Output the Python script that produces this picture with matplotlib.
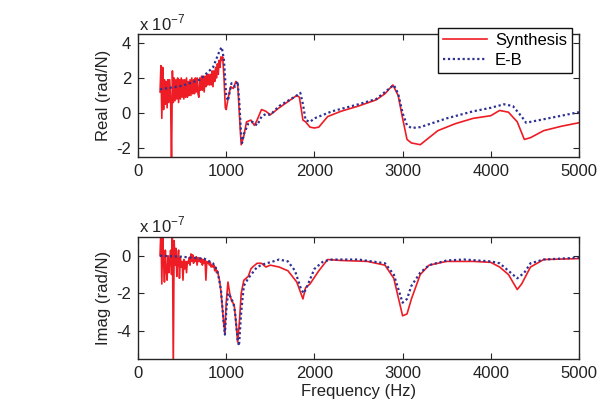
import numpy as np
import matplotlib
matplotlib.use("Agg")
import matplotlib.pyplot as plt

plt.rcParams['font.family'] = ['Liberation Sans', 'DejaVu Sans']

# ---------------- data (units of 1e-7 rad/N) ----------------
# noisy low-frequency region of the synthesis curves (250..950 Hz, step 10)
noise_freq = list(range(250, 960, 10))
syn_real_noise = [1.2, 2.7, -0.3, 2.6, 0.2, 1.9, 0.5, 1.8, 0.3, 1.9,
                  0.6, 1.9, 0.7, -3.0, 2.4, 0.6, 2.0, 0.7, 1.9, 0.8,
                  2.0, 0.6, 1.9, 0.8, 2.0, 0.9, 1.9, 0.8, 1.9, 0.9,
                  2.0, 0.9, 1.8, 1.0, 1.9, 1.0, 2.0, 1.1, 1.9, 1.1,
                  2.0, 1.2, 2.0, 1.1, 0.9, 2.0, 1.3, 2.1, 1.3, 2.1,
                  1.2, 2.1, 1.5, 2.2, 1.6, 2.2, 1.6, 2.2, 1.6, 2.4,
                  1.5, 2.4, 1.8, 2.6, 2.0, 2.8, 2.2, 3.0, 2.6, 3.2,
                  3.0]
syn_imag_noise = [0.0, 1.5, -1.5, 1.2, -0.3, -1.4, 0.3, -0.8, -1.3, 0.0,
                  -0.9, -0.2, 0.3, -1.0, 1.5, -6.0, 0.8, -0.5, 0.4, -1.1,
                  -0.2, 0.3, -1.2, -0.1, -0.6, -0.3, -1.3, -0.2, -0.7, -0.3,
                  -0.9, -0.3, -0.4, -0.1, -0.5, 0.1, -0.3, 0.05, -0.4, -0.1,
                  -0.3, -0.05, -0.5, -0.1, -0.3, -0.2, -0.35, -0.15, -0.5, -0.2,
                  -0.4, -0.25, -1.3, -0.3, -0.4, -0.3, -0.5, -0.35, -0.6, -0.5,
                  -0.6, -0.5, -0.8, -0.6, -0.9, -0.8, -1.0, -1.2, -1.5, -1.9,
                  -2.4]

# smooth part of the synthesis curves
syn_real_freq = [960, 975, 990, 1000, 1020, 1050, 1080, 1110, 1130, 1160, 1170,
                 1200, 1230, 1280, 1320, 1350, 1400, 1450, 1500, 1600, 1800,
                 1830, 1870, 1900, 1950, 2000, 2050, 2150, 2200, 2300, 2500,
                 2700, 2800, 2890, 2950, 3000, 3050, 3100, 3200, 3250, 3400,
                 3600, 3800, 4000, 4100, 4200, 4300, 4380, 4450, 4600, 4800, 5000]
syn_real_vals = [3.2, 2.0, 0.3, 0.2, 0.8, 1.5, 1.4, 1.8, 1.7, -1.0, -1.8,
                 -1.3, -0.5, -0.4, -0.7, -0.4, 0.2, 0.1, -0.1, 0.3, 1.0,
                 0.9, -0.4, -0.5, -0.8, -0.85, -0.8, -0.2, -0.1, 0.1, 0.4,
                 0.75, 1.1, 1.6, 1.0, -0.3, -1.5, -1.7, -1.8, -1.6, -1.0,
                 -0.6, -0.3, -0.15, 0.15, 0.05, -0.5, -1.5, -1.4, -1.0, -0.75, -0.55]

syn_imag_freq = [970, 985, 1000, 1020, 1040, 1060, 1090, 1110, 1130, 1150,
                 1170, 1200, 1250, 1280, 1300, 1350, 1400, 1450, 1500, 1600,
                 1700, 1800, 1870, 1900, 1950, 2050, 2150, 2300, 2600, 2800,
                 2900, 2950, 3000, 3050, 3100, 3200, 3300, 3500, 3800, 4000,
                 4100, 4200, 4300, 4350, 4450, 4600, 5000]
syn_imag_vals = [-3.5, -4.1, -2.5, -1.4, -2.0, -2.4, -2.6, -3.5, -4.6, -3.5,
                 -2.0, -1.3, -1.1, -0.7, -0.6, -0.4, -0.4, -0.6, -0.5, -0.6,
                 -0.8, -1.4, -2.3, -1.7, -1.5, -0.8, -0.2, -0.25, -0.3, -0.5,
                 -1.2, -2.2, -3.2, -3.1, -2.3, -1.0, -0.5, -0.3, -0.3, -0.35,
                 -0.6, -1.0, -1.8, -1.5, -0.6, -0.2, -0.15]

# E-B model curves
eb_real_freq = [250, 500, 700, 850, 930, 950, 975, 1000, 1020, 1060, 1100, 1130,
                1150, 1170, 1180, 1200, 1250, 1300, 1350, 1400, 1450, 1500,
                1600, 1700, 1800, 1840, 1870, 1900, 1950, 2000, 2200, 2500,
                2700, 2900, 2950, 3000, 3050, 3100, 3200, 3500, 3800, 4000,
                4150, 4250, 4350, 4400, 4500, 4800, 5000]
eb_real_vals = [1.35, 1.55, 1.9, 2.6, 3.6, 3.75, 3.0, 1.0, 0.7, 1.7, 1.5, 1.8,
                0.5, -1.3, -1.7, -1.2, -0.6, -0.5, -0.7, -0.2, -0.05, -0.1,
                0.4, 0.7, 1.0, 1.15, 0.5, -0.4, -0.5, -0.3, 0.1, 0.5,
                0.8, 1.6, 1.1, 0.0, -0.7, -0.85, -0.8, -0.3, 0.1, 0.3,
                0.5, 0.4, -0.2, -0.55, -0.45, -0.15, 0.05]

eb_imag_freq = [250, 500, 600, 750, 850, 900, 940, 970, 985, 1000, 1020, 1050,
                1080, 1100, 1130, 1145, 1170, 1200, 1250, 1300, 1350, 1400,
                1450, 1500, 1600, 1700, 1780, 1850, 1880, 1920, 2000, 2100,
                2200, 2500, 2800, 2900, 3000, 3050, 3100, 3200, 3300, 3500,
                3700, 4000, 4100, 4200, 4300, 4380, 4450, 4600, 5000]
eb_imag_vals = [0.0, -0.05, -0.1, -0.15, -0.4, -0.8, -1.8, -3.5, -4.2, -3.0, -2.0, -2.2,
                -2.5, -3.0, -4.5, -4.8, -3.0, -1.6, -1.2, -0.9, -0.6, -0.5,
                -0.4, -0.35, -0.2, -0.3, -0.8, -1.8, -2.0, -1.6, -0.7, -0.3,
                -0.2, -0.2, -0.4, -1.0, -2.5, -2.3, -1.6, -0.9, -0.5, -0.25,
                -0.2, -0.3, -0.4, -0.8, -1.2, -0.9, -0.4, -0.2, -0.1]

x_ticks = [0, 1000, 2000, 3000, 4000, 5000]
real_ticks = [-2, 0, 2, 4]
imag_ticks = [-4, -2, 0]

# ---------------- figure ----------------
W, H = 608, 409
fig = plt.figure(figsize=(W / 100, H / 100), dpi=100)

def fx(px):
    return px / W

def fy(py):
    return 1 - py / H

red = '#ee1c24'
blue = '#2e3192'
spine_col = '#262626'

ax1 = fig.add_axes([fx(138), fy(157), fx(579 - 138), (157 - 34) / H])
ax2 = fig.add_axes([fx(138), fy(359), fx(579 - 138), (359 - 237) / H])

syn_real_f = noise_freq + syn_real_freq
syn_real_v = syn_real_noise + syn_real_vals
syn_imag_f = noise_freq + syn_imag_freq
syn_imag_v = syn_imag_noise + syn_imag_vals

l1, = ax1.plot(syn_real_f, syn_real_v, color=red, lw=1.2, label='Synthesis')
l2, = ax1.plot(eb_real_freq, eb_real_vals, color=blue, lw=1.6, ls=(0, (1, 1.2)), label='E-B')
ax2.plot(syn_imag_f, syn_imag_v, color=red, lw=1.2)
ax2.plot(eb_imag_freq, eb_imag_vals, color=blue, lw=1.6, ls=(0, (1, 1.2)))

for ax, yl, yt, lab in [(ax1, (-2.5, 4.5), real_ticks, 'Real (rad/N)'),
                        (ax2, (-5.5, 1.0), imag_ticks, 'Imag (rad/N)')]:
    ax.set_xlim(0, 5000)
    ax.set_ylim(*yl)
    ax.set_xticks(x_ticks)
    ax.set_yticks(yt)
    ax.set_yticklabels([str(t) for t in yt])
    ax.tick_params(direction='in', top=True, right=True, length=4,
                   labelsize=12, color=spine_col, labelcolor='#222222', pad=5)
    for s in ax.spines.values():
        s.set_color(spine_col)
        s.set_linewidth(1.0)
    ax.set_ylabel(lab, fontsize=12, color='#222222', labelpad=4)

ax2.set_xlabel('Frequency (Hz)', fontsize=12, color='#222222', labelpad=2)

fig.text(fx(139), fy(23), r'x 10$^{\mathregular{-7}}$', fontsize=12, color='#222222',
         va='center', ha='left')
fig.text(fx(139), fy(225), r'x 10$^{\mathregular{-7}}$', fontsize=12, color='#222222',
         va='center', ha='left')

leg = ax1.legend(handles=[l1, l2], loc='upper right',
                 bbox_to_anchor=(fx(572), fy(28)), bbox_transform=fig.transFigure,
                 fontsize=12, frameon=True, fancybox=False, borderpad=0.3,
                 handlelength=2.6, handletextpad=0.5, labelspacing=0.3,
                 borderaxespad=0)
leg.get_frame().set_edgecolor('#111111')
leg.get_frame().set_linewidth(1.0)
leg.get_frame().set_alpha(1)

fig.savefig('out.png', dpi=100)
